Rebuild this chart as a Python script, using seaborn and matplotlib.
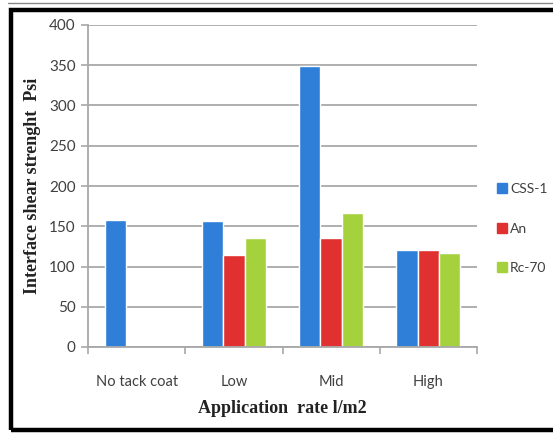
import numpy as np
import pandas as pd
import matplotlib
matplotlib.use("Agg")
import matplotlib.pyplot as plt
from matplotlib.patches import Rectangle
from matplotlib.lines import Line2D
import seaborn as sns

categories = ["No tack coat", "Low", "Mid", "High"]
series = ["CSS-1", "An", "Rc-70"]
css1 = [158, 156, 349, 120]
an = [np.nan, 114, 135, 120]
rc70 = [np.nan, 135, 167, 117]
yticks = [0, 50, 100, 150, 200, 250, 300, 350, 400]

colors = ["#2F7ED8", "#E0302F", "#A5D13D"]

rows = []
for name, vals in zip(series, [css1, an, rc70]):
    for cat, v in zip(categories, vals):
        rows.append({"rate": cat, "binder": name, "psi": v})
df = pd.DataFrame(rows)

sns.set_theme(style="white")
plt.rcParams["font.family"] = ["Lato", "DejaVu Sans"]

fig = plt.figure(figsize=(5.53, 4.34), dpi=100)
ax = fig.add_axes([88 / 553, 1 - 347 / 434, (477 - 88) / 553, (347 - 25) / 434])

sns.barplot(data=df, x="rate", y="psi", hue="binder", order=categories,
            hue_order=series, palette=colors, width=0.66, saturation=1,
            ax=ax, legend=False, errorbar=None)

ax.set_ylim(0, 400)
ax.set_xlim(-0.5, 3.5)
ax.set_yticks(yticks)
ax.yaxis.grid(True, color="#A8A8A8", linewidth=1.3)
ax.set_axisbelow(True)
for s in ["top", "right"]:
    ax.spines[s].set_visible(False)
for s in ["left", "bottom"]:
    ax.spines[s].set_color("#A8A8A8")
    ax.spines[s].set_linewidth(1.3)

tick_color = "#404040"
ax.tick_params(axis="y", left=True, length=5, width=1.2, color="#A8A8A8",
               labelsize=11, labelcolor=tick_color, pad=4)
ax.tick_params(axis="x", bottom=False, labelsize=10.5, labelcolor=tick_color, pad=14)
ax.set_xticks(np.arange(-0.5, 4, 1.0), minor=True)
ax.tick_params(axis="x", which="minor", bottom=True, length=5, width=1.2,
               color="#A8A8A8")

serif = ["Liberation Serif", "DejaVu Serif"]
ax.set_ylabel("Interface shear strenght  Psi", family=serif, fontweight="bold",
              fontsize=13, color="#222222", labelpad=6)
ax.set_xlabel("Application  rate l/m2", family=serif, fontweight="bold",
              fontsize=13, color="#222222", labelpad=8)

handles = [Line2D([0], [0], marker="s", linestyle="none", markersize=7,
                  markerfacecolor=c, markeredgecolor=c) for c in colors]
fig.legend(handles, series, loc="upper left", bbox_to_anchor=(494 / 553, 1 - 180 / 434),
           frameon=False, fontsize=10, labelspacing=2.0, handlelength=0.7,
           handletextpad=0.25, borderaxespad=0, borderpad=0.2, labelcolor=tick_color)

# frame around the figure (its right edge runs past the canvas)
fig.patches.append(Rectangle((11 / 553, 4 / 434), 1.0, (424 - 4) / 434,
                             transform=fig.transFigure, fill=False,
                             edgecolor="black", linewidth=3.2))
fig.lines.append(Line2D([8 / 553, 1], [1 - 2.5 / 434, 1 - 2.5 / 434],
                        transform=fig.transFigure, color="#888888", linewidth=1))

fig.savefig("out.png", dpi=100)
